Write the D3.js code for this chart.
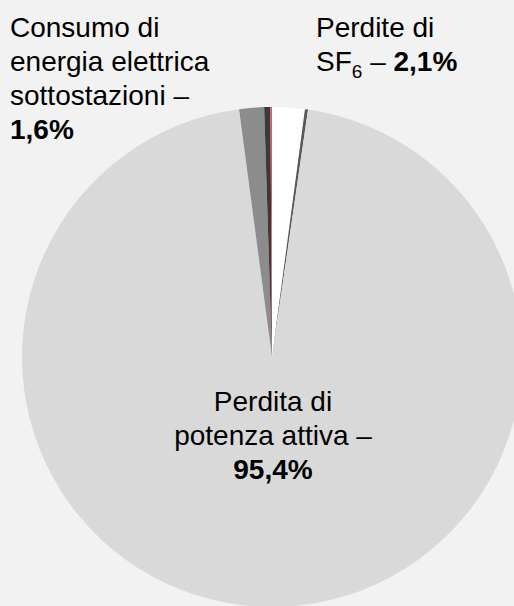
<!DOCTYPE html>
<html>
<head>
<meta charset="utf-8">
<script src="https://cdn.jsdelivr.net/npm/d3@7"></script>
<style>
  body { margin: 0; background: #f2f2f2; }
  svg { display: block; font-family: "Liberation Sans", Arial, sans-serif; }
</style>
</head>
<body>
<div class="chart"></div>
<script>
// slices, clockwise from 12 o'clock
const categories = ["Perdite di SF6", "Altro", "Perdita di potenza attiva",
                    "Consumo di energia elettrica sottostazioni", "Altro 2", "Altro 3"];
const values = [2.1, 0.2, 95.4, 1.6, 0.4, 0.1];

const colors = ["#ffffff", "#595959", "#d9d9d9", "#8c8c8c", "#3a3a3a", "#e05a64"];

const width = 514, height = 606;
const cx = 272, cy = 357, radius = 250;

const svg = d3.select(".chart").append("svg")
    .attr("width", width)
    .attr("height", height);

svg.append("rect").attr("width", width).attr("height", height).attr("fill", "#f2f2f2");

const pie = d3.pie().sort(null).value(d => d.value);
const arc = d3.arc().innerRadius(0).outerRadius(radius);

const slices = pie(categories.map((c, i) => ({key: c, value: values[i], color: colors[i]})));

svg.append("g")
    .attr("transform", "translate(" + cx + "," + cy + ")")
    .selectAll("path")
    .data(slices)
    .enter()
    .append("path")
    .attr("d", arc)
    .attr("fill", d => d.data.color);

const fs = 28, lh = 34;
const pct = v => d3.format(".1f")(v).replace(".", ",") + "%";

// left label
const left = svg.append("text").attr("font-size", fs).attr("fill", "#000");
["Consumo di", "energia elettrica", "sottostazioni –"].forEach((t, i) => {
  left.append("tspan").attr("x", 10).attr("y", 37 + i * lh).text(t);
});
left.append("tspan").attr("x", 10).attr("y", 37 + 3 * lh).attr("font-weight", "bold").text(pct(values[3]));

// right label
const right = svg.append("text").attr("font-size", fs).attr("fill", "#000");
right.append("tspan").attr("x", 316).attr("y", 37).text("Perdite di");
right.append("tspan").attr("x", 316).attr("y", 37 + lh).text("SF");
right.append("tspan").attr("font-size", 19).attr("dy", 7).text("6");
right.append("tspan").attr("dy", -7).text(" – ");
right.append("tspan").attr("font-weight", "bold").text(pct(values[0]));

// centre label
const mid = svg.append("text").attr("font-size", fs).attr("fill", "#000").attr("text-anchor", "middle");
["Perdita di", "potenza attiva –"].forEach((t, i) => {
  mid.append("tspan").attr("x", 273).attr("y", 411 + i * lh).text(t);
});
mid.append("tspan").attr("x", 273).attr("y", 411 + 2 * lh).attr("font-weight", "bold").text(pct(values[2]));
</script>
</body>
</html>
